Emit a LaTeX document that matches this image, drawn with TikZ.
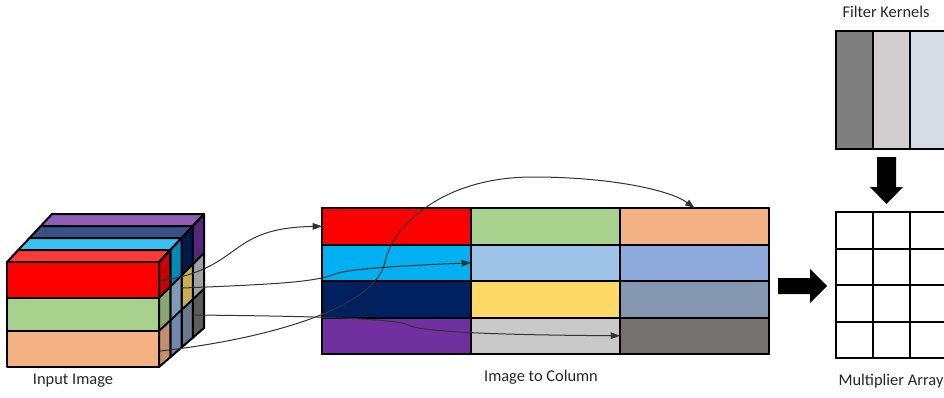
\documentclass[tikz,border=0pt]{standalone}
\usepackage{fontspec}
\setmainfont{Carlito}
\usetikzlibrary{arrows.meta}

\definecolor{imgRed}{HTML}{FF0000}
\definecolor{imgGreen}{HTML}{A9D18E}
\definecolor{imgPeach}{HTML}{F4B183}
\definecolor{imgCyan}{HTML}{00B0F0}
\definecolor{imgSky}{HTML}{9DC3E6}
\definecolor{imgBlue}{HTML}{8FAADC}
\definecolor{imgNavy}{HTML}{002060}
\definecolor{imgGold}{HTML}{FFD966}
\definecolor{imgSlate}{HTML}{8497B0}
\definecolor{imgPurple}{HTML}{7030A0}
\definecolor{imgSilver}{HTML}{C9C9C9}
\definecolor{imgGrey}{HTML}{767171}
\definecolor{kerDark}{HTML}{7F7F7F}
\definecolor{kerMid}{HTML}{D0CECE}
\definecolor{kerLight}{HTML}{D6DCE4}

\tikzset{
  cell/.style={draw=black, line width=1.5pt, inner sep=0pt, outer sep=0pt,
    minimum width=111.75pt, minimum height=27.375pt},
  kcell/.style={cell, minimum width=27.75pt},
  face/.style={draw=black, line width=1.5pt, line join=round},
  link/.style={draw=black!80, line width=0.75pt, -{Triangle[length=7pt,width=5pt]}},
  caption/.style={font=\fontsize{12.3}{14}\selectfont, text=black!85, inner sep=0pt},
}

\begin{document}
\begin{tikzpicture}[x=0.75pt,y=-0.75pt]
    \useasboundingbox (0,0) rectangle (944,397);
    \clip (0,0) rectangle (944,397);

    % input cube, one slab per row of the column matrix, back slab first
    \foreach \k/\ca/\cb/\cc in {3/imgPurple/imgSilver/imgGrey, 2/imgNavy/imgGold/imgSlate,
                                1/imgCyan/imgSky/imgBlue, 0/imgRed/imgGreen/imgPeach}{
        \pgfmathsetmacro\xa{7+11.25*\k}
        \pgfmathsetmacro\xb{159+11.25*\k}
        \pgfmathsetmacro\xc{\xb+11.25}
        \pgfmathsetmacro\ya{262-12*\k}
        \pgfmathsetmacro\yb{\ya-12}
        \pgfmathsetmacro\ba{367-9.75*\k}
        \pgfmathsetmacro\bb{\ba-9.75}
        \pgfmathsetmacro\fa{\ya+0.343*(\ba-\ya)}
        \pgfmathsetmacro\fb{\ya+0.657*(\ba-\ya)}
        \pgfmathsetmacro\ga{\yb+0.343*(\bb-\yb)}
        \pgfmathsetmacro\gb{\yb+0.657*(\bb-\yb)}
        \fill [\ca!78!white] (\xa,\ya) -- (\xb,\ya) -- (\xc,\yb) -- (\xa+11.25,\yb) -- cycle;
        \fill [\ca!78!black] (\xb,\ya) -- (\xc,\yb) -- (\xc,\ga) -- (\xb,\fa) -- cycle;
        \fill [\cb!80!black] (\xb,\fa) -- (\xc,\ga) -- (\xc,\gb) -- (\xb,\fb) -- cycle;
        \fill [\cc!80!black] (\xb,\fb) -- (\xc,\gb) -- (\xc,\bb) -- (\xb,\ba) -- cycle;
        \draw [face] (\xa,\ya) -- (\xb,\ya) -- (\xc,\yb) -- (\xa+11.25,\yb) -- cycle;
        \draw [face] (\xb,\ya) -- (\xc,\yb) -- (\xc,\bb) -- (\xb,\ba) -- cycle;
        \draw [face] (\xb,\fa) -- (\xc,\ga) (\xb,\fb) -- (\xc,\gb);
    }
    \draw [face, fill=imgRed] (7,262) rectangle (159,298);
    \draw [face, fill=imgGreen] (7,298) rectangle (159,331);
    \draw [face, fill=imgPeach] (7,331) rectangle (159,367);
    \node [caption] (inlabel) at (73,381) {Input Image};

    \coordinate (p1) at (160,281);
    \coordinate (p2) at (183,288);
    \coordinate (p3) at (193,315);
    \coordinate (p4) at (160,351);

    % column matrix
    \foreach \r/\ca/\cb/\cc in {1/imgRed/imgGreen/imgPeach, 2/imgCyan/imgSky/imgBlue,
                                3/imgNavy/imgGold/imgSlate, 4/imgPurple/imgSilver/imgGrey}{
        \foreach \col [count=\c] in {\ca,\cb,\cc}
            \node [cell, fill=\col] (r\r-c\c) at ({396.5+149*(\c-1)},{226.25+36.5*(\r-1)}) {};
    }
    \node [caption] (collabel) at (541,377.5) {Image to Column};

    % filter kernels and multiplier array
    \foreach \col [count=\c] in {kerDark,kerMid,kerLight}
        \node [kcell, fill=\col, minimum height=88.5pt] (k\c) at ({854.5+37*(\c-1)},90) {};
    \node [caption] (klabel) at (886,12) {Filter Kernels};
    \foreach \r in {1,...,4}
        \foreach \c in {1,2,3}
            \node [kcell, fill=white] (m\r-\c) at ({854.5+37*(\c-1)},{230.25+36.5*(\r-1)}) {};
    \node [caption] (mlabel) at (891,381) {Multiplier Array};

    \fill [black] (877,157) -- (896,157) -- (896,187) -- (903,187) -- (886.5,204) -- (870,187) -- (877,187) -- cycle;
    \fill [black] (778,278) -- (810,278) -- (810,269) -- (827,286) -- (810,303) -- (810,294) -- (778,294) -- cycle;

    % unrolling paths
    \draw [link] (p1) .. controls (245,268) and (225,228) .. (r1-c1.west);
    \draw [link] (p2) .. controls (280,284) and (315,282) .. (335,274)
                      .. controls (350,268) and (420,265) .. (r2-c2.west);
    \draw [link] (p3) .. controls (300,316) and (395,318) .. (408,325)
                      .. controls (420,332) and (500,335) .. (r4-c3.west);
    \draw [link] (p4) .. controls (260,340) and (375,310) .. (385,262)
                      .. controls (392,228) and (440,177) .. (533,177)
                      .. controls (610,177) and (670,190) .. (r1-c3.north);
\end{tikzpicture}
\end{document}
